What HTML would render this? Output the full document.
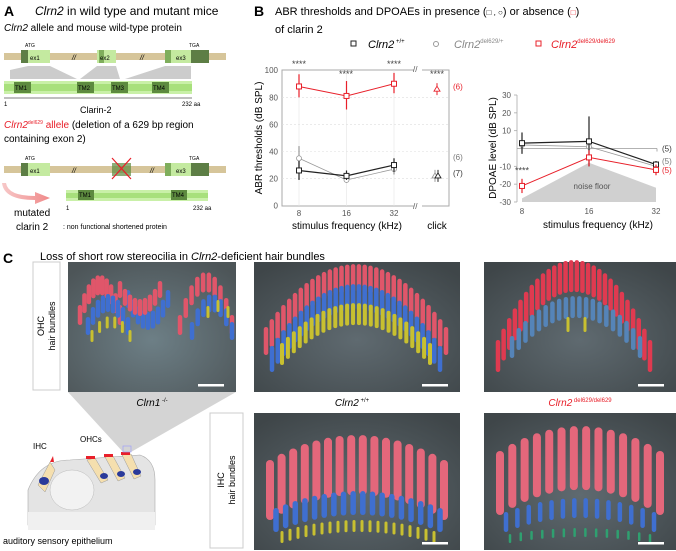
<!DOCTYPE html>
<html><head><meta charset="utf-8"><style>
html,body{margin:0;padding:0;background:#fff;}
svg{display:block;font-family:"Liberation Sans",Arial,sans-serif;}
</style></head><body>
<svg id="fig" width="676" height="551" viewBox="0 0 676 551" xmlns="http://www.w3.org/2000/svg">
<defs>
<linearGradient id="pinkArrow" x1="0" x2="1"><stop offset="0" stop-color="#f7c8c8"/><stop offset="1" stop-color="#f08a8a"/></linearGradient>
<radialGradient id="semBg" cx="0.5" cy="0.6" r="0.7"><stop offset="0" stop-color="#6d7f86"/><stop offset="1" stop-color="#4d5558"/></radialGradient>
<radialGradient id="semBg2" cx="0.5" cy="0.6" r="0.7"><stop offset="0" stop-color="#5f6a70"/><stop offset="1" stop-color="#3f4649"/></radialGradient>
<clipPath id="clipIhcWt"><rect x="254" y="413" width="206" height="137"/></clipPath>
<clipPath id="clipIhcKo"><rect x="484" y="413" width="192" height="137"/></clipPath>
</defs>

<!-- ===== Panel A ===== -->
<g>
<text x="4" y="16" font-size="14" font-weight="bold">A</text>
<text x="35" y="15" font-size="12"><tspan font-style="italic">Clrn2</tspan> in wild type and mutant mice</text>
<text x="4" y="31" font-size="10"><tspan font-style="italic">Clrn2</tspan> allele and mouse wild-type protein</text>
<g>
<rect x="4" y="53" width="222" height="7" fill="#d6c59a"/>
<rect x="21" y="50" width="7" height="13" fill="#5d7e45"/>
<rect x="28" y="50" width="22" height="13" fill="#c4eaa0"/>
<rect x="97" y="50" width="19" height="13" fill="#c4eaa0"/>
<rect x="99" y="50" width="5" height="13" fill="#7fae5c"/>
<rect x="165" y="50" width="26" height="13" fill="#c4eaa0"/>
<rect x="165" y="50" width="6" height="13" fill="#7fae5c"/>
<rect x="191" y="50" width="18" height="13" fill="#5d7e45"/>
<text x="30" y="60" font-size="6">ex1</text><text x="100" y="60" font-size="6">ex2</text><text x="176" y="60" font-size="6">ex3</text>
<text x="25" y="47" font-size="5">ATG</text><text x="189" y="47" font-size="5">TGA</text>
<text x="72" y="60" font-size="7" font-style="italic">//</text><text x="140" y="60" font-size="7" font-style="italic">//</text>
<polygon points="10,79 10,70 28,66 50,66 77,79" fill="#ccc"/>
<polygon points="80,79 97,66 116,66 120,79" fill="#ccc"/>
<polygon points="125,79 165,66 191,66 191,79" fill="#ccc"/>
</g>
<g>
<rect x="4" y="81" width="188" height="13" fill="#c9f0a8"/>
<rect x="4" y="84" width="188" height="7" fill="#a8e07c"/>
<rect x="14" y="82" width="17" height="11" fill="#5d8a3f"/><text x="15" y="90" font-size="6">TM1</text>
<rect x="77" y="82" width="17" height="11" fill="#5d8a3f"/><text x="78" y="90" font-size="6">TM2</text>
<rect x="111" y="82" width="17" height="11" fill="#5d8a3f"/><text x="112" y="90" font-size="6">TM3</text>
<rect x="152" y="82" width="17" height="11" fill="#5d8a3f"/><text x="153" y="90" font-size="6">TM4</text>
<line x1="4" y1="98" x2="192" y2="98" stroke="#555" stroke-width="0.8"/>
<text x="4" y="106" font-size="6">1</text><text x="182" y="106" font-size="6">232 aa</text>
<text x="80" y="113" font-size="9">Clarin-2</text>
</g>
<text x="4" y="128" font-size="10"><tspan fill="#e8202a" font-style="italic">Clrn2</tspan><tspan fill="#e8202a" font-size="5" dy="-4">del629</tspan><tspan fill="#e8202a" dy="4"> allele</tspan> (deletion of a 629 bp region</text>
<text x="4" y="142" font-size="10">containing exon 2)</text>
<g>
<rect x="4" y="166" width="222" height="7" fill="#d6c59a"/>
<rect x="21" y="163" width="7" height="13" fill="#5d7e45"/>
<rect x="28" y="163" width="22" height="13" fill="#c4eaa0"/>
<rect x="165" y="163" width="26" height="13" fill="#c4eaa0"/>
<rect x="165" y="163" width="6" height="13" fill="#7fae5c"/>
<rect x="191" y="163" width="18" height="13" fill="#5d7e45"/>
<rect x="112" y="163" width="19" height="13" fill="#5d8a3f" opacity="0.7"/>
<line x1="112" y1="158" x2="131" y2="179" stroke="#e8202a" stroke-width="1.2"/>
<line x1="131" y1="158" x2="112" y2="179" stroke="#e8202a" stroke-width="1.2"/>
<text x="30" y="173" font-size="6">ex1</text><text x="176" y="173" font-size="6">ex3</text>
<text x="25" y="160" font-size="5">ATG</text><text x="189" y="160" font-size="5">TGA</text>
<text x="72" y="173" font-size="7" font-style="italic">//</text><text x="150" y="173" font-size="7" font-style="italic">//</text>
</g>
<path d="M6,183 Q8,196 35,196 L35,192 L50,198 L35,204 L35,200 Q4,200 2,183 Z" fill="url(#pinkArrow)"/>
<g>
<rect x="66" y="190" width="142" height="11" fill="#c9f0a8"/>
<rect x="66" y="193" width="142" height="5" fill="#a8e07c"/>
<rect x="78" y="190" width="16" height="10" fill="#5d8a3f"/><text x="79" y="197" font-size="6">TM1</text>
<rect x="171" y="190" width="16" height="10" fill="#5d8a3f"/><text x="172" y="197" font-size="6">TM4</text>
<text x="66" y="210" font-size="6">1</text><text x="193" y="210" font-size="6">232 aa</text>
</g>
<text x="14" y="216" font-size="10">mutated</text>
<text x="16" y="230" font-size="10">clarin 2</text>
<text x="63" y="229" font-size="7">: non functional shortened protein</text>
</g>

<!-- ===== Panel B ===== -->
<g>
<text x="254" y="16" font-size="14" font-weight="bold">B</text>
<text x="275" y="15" font-size="11">ABR thresholds and DPOAEs in presence (<tspan font-size="8">□ , ○</tspan>) or absence (<tspan fill="#e8202a" font-size="8">□</tspan>)</text>
<text x="275" y="33" font-size="11">of clarin 2</text>
<g>
<rect x="351" y="41" width="5" height="5" fill="none" stroke="#222" stroke-width="1"/>
<text x="368" y="48" font-size="11" font-style="italic">Clrn2<tspan font-size="6" dy="-5" font-style="normal"> +/+</tspan></text>
<circle cx="436" cy="44" r="2.5" fill="none" stroke="#999"/>
<text x="454" y="48" font-size="11" font-style="italic" fill="#888">Clrn2<tspan font-size="6" dy="-5" font-style="normal">del629/+</tspan></text>
<rect x="536" y="41" width="5" height="5" fill="none" stroke="#e8202a"/>
<text x="551" y="48" font-size="11" font-style="italic" fill="#e8202a">Clrn2<tspan font-size="6" dy="-5" font-style="normal">del629/del629</tspan></text>
</g>
<g id="abr"></g>
<g id="dp"></g>
</g>

<!-- ===== Panel C ===== -->
<g>
<text x="3" y="263" font-size="14" font-weight="bold">C</text>
<text x="40" y="260" font-size="11">Loss of short row stereocilia in <tspan font-style="italic">Clrn2</tspan>-deficient hair bundles</text>
<rect x="33" y="262" width="27" height="128" fill="#fff" stroke="#ccc"/>
<text transform="translate(44,326) rotate(-90)" font-size="9" text-anchor="middle">OHC</text>
<text transform="translate(55,326) rotate(-90)" font-size="9" text-anchor="middle">hair bundles</text>
<rect x="210" y="413" width="33" height="135" fill="#fff" stroke="#ccc"/>
<text transform="translate(224,480) rotate(-90)" font-size="9" text-anchor="middle">IHC</text>
<text transform="translate(235,480) rotate(-90)" font-size="9" text-anchor="middle">hair bundles</text>
<polygon points="68,392 236,392 131,452 123,452" fill="#d4d4d4"/>
<g id="sem"></g>
<text x="152" y="406" font-size="10" font-style="italic" text-anchor="middle">Clrn1<tspan font-size="6" dy="-4" font-style="normal"> -/-</tspan></text>
<text x="352" y="406" font-size="10" font-style="italic" text-anchor="middle">Clrn2<tspan font-size="6" dy="-4" font-style="normal"> +/+</tspan></text>
<text x="580" y="406" font-size="10" font-style="italic" fill="#e8202a" text-anchor="middle">Clrn2<tspan font-size="6" dy="-4" font-style="normal"> del629/del629</tspan></text>
<g>
<path d="M28,490 Q40,460 70,460 L140,455 Q155,460 155,480 L155,525 L28,525 Z" fill="#e4e4e4" stroke="#aaa" stroke-width="0.6"/>
<rect x="28" y="512" width="127" height="18" fill="#f0f0f0"/>
<ellipse cx="72" cy="490" rx="22" ry="20" fill="#f2f2f2" stroke="#bbb" stroke-width="0.5"/>
<path d="M38,485 L50,462 L55,470 L45,492 Z" fill="#f5dfae" stroke="#999" stroke-width="0.5"/>
<ellipse cx="44" cy="481" rx="5" ry="4" fill="#2a3a9a"/>
<path d="M50,462 l3,-6 l1,6z" fill="#e8202a"/>
<g fill="#f5dfae" stroke="#999" stroke-width="0.5">
<path d="M87,460 L95,458 L108,480 L101,483 Z"/><path d="M105,457 L113,456 L125,478 L118,481 Z"/><path d="M122,455 L131,454 L141,476 L134,479 Z"/>
</g>
<ellipse cx="104" cy="476" rx="4" ry="3" fill="#2a3a9a"/><ellipse cx="121" cy="474" rx="4" ry="3" fill="#2a3a9a"/><ellipse cx="137" cy="472" rx="4" ry="3" fill="#2a3a9a"/>
<rect x="86" y="456" width="9" height="3" fill="#e8202a"/><rect x="104" y="454" width="9" height="3" fill="#e8202a"/><rect x="121" y="452" width="9" height="3" fill="#e8202a"/>
<rect x="123" y="446" width="8" height="6" fill="none" stroke="#99f" stroke-width="0.6"/>
<text x="33" y="449" font-size="8">IHC</text><text x="80" y="442" font-size="8">OHCs</text>
</g>
<text x="3" y="544" font-size="9">auditory sensory epithelium</text>
</g>

<script>
// ---------- ABR data ----------
const abrFreqs = [8, 16, 32];
const abrWT = [26, 22, 30];
const abrWTLo = [19, 19, 25];
const abrWTHi = [33, 26, 35];
const abrHet = [35, 19, 27];
const abrHetLo = [24, 17, 23];
const abrHetHi = [44, 23, 32];
const abrKO = [88, 81, 90];
const abrKOLo = [80, 71, 83];
const abrKOHi = [97, 92, 98];
const clickWT = 22, clickHet = 22, clickKO = 86;
const abrTicks = [0, 20, 40, 60, 80, 100];
// ---------- DPOAE data ----------
const dpFreqs = [8, 16, 32];
const dpWT = [3, 4, -9];
const dpWTLo = [-3, -10, -11];
const dpWTHi = [9, 18, -7];
const dpHet = [2, 1, -10];
const dpKO = [-21, -5, -12];
const dpKOLo = [-25, -10, -15];
const dpKOHi = [-17, -1, -9];
const dpNoise = [-28, -8, -22];
const dpTicks = [-30, -20, -10, 10, 20, 30];

const NS = "http://www.w3.org/2000/svg";
function mk(parent, tag, attrs, text) {
  const e = document.createElementNS(NS, tag);
  for (const k in attrs) e.setAttribute(k, attrs[k]);
  if (text !== undefined) e.textContent = text;
  parent.appendChild(e);
  return e;
}
const ax = v => 299 + (Math.log2(v) - 3) * 47.5;
const ay = v => 205.7 - v * 1.355;
const dx = v => 522 + (Math.log2(v) - 3) * 67;
const dy = v => 148.5 - v * 1.783;

const abr = document.getElementById('abr');
let fr = mk(abr, 'rect', {x: 282, y: 70, width: 167, height: 136, fill: 'none', stroke: '#aaa', 'stroke-width': 1});


mk(abr, 'rect', {x: 414, y: 64, width: 8, height: 146, fill: '#fff'});
mk(abr, 'text', {x: 413, y: 72, 'font-size': 8, fill: '#555'}, '//');
mk(abr, 'text', {x: 413, y: 209, 'font-size': 8, fill: '#555'}, '//');
abrTicks.forEach(t => {
  if (t > 0 && t < 100) {
    let g = mk(abr, 'line', {x1: 282, x2: 449, y1: ay(t), y2: ay(t), stroke: '#ddd', 'stroke-width': 0.6, 'stroke-dasharray': '2,2'});
    
    
  }
  let tl = mk(abr, 'text', {x: 278, y: ay(t) + 3, 'font-size': 8, 'text-anchor': 'end', fill: '#555'}, t);
  
  
});
abrFreqs.forEach(f => {
  let g = mk(abr, 'line', {x1: ax(f), x2: ax(f), y1: 70, y2: 206, stroke: '#e4e4e4', 'stroke-width': 0.6});
  
  
  let tl = mk(abr, 'text', {x: ax(f), y: 216, 'font-size': 8, 'text-anchor': 'middle', fill: '#555'}, f);
  
  
});
let yt = mk(abr, 'text', {transform: 'translate(262,138) rotate(-90)', 'font-size': 10, 'text-anchor': 'middle'}, 'ABR thresholds  (dB SPL)');


let xt = mk(abr, 'text', {x: 347, y: 229, 'font-size': 10, 'text-anchor': 'middle'}, 'stimulus frequency (kHz)');


let ct = mk(abr, 'text', {x: 437, y: 229, 'font-size': 10, 'text-anchor': 'middle'}, 'click');



function series(parent, xs, ys, lo, hi, xf, yf, col, lw, marker, name) {
  const pts = xs.map((f, i) => xf(f) + ',' + yf(ys[i])).join(' ');
  let pl = mk(parent, 'polyline', {points: pts, fill: 'none', stroke: col, 'stroke-width': lw});
  
  
  xs.forEach((f, i) => {
    if (lo) {
      let eb = mk(parent, 'line', {x1: xf(f), x2: xf(f), y1: yf(lo[i]), y2: yf(hi[i]), stroke: col, 'stroke-width': 1.2});
      
      
    }
    let m;
    if (marker === 'sq') m = mk(parent, 'rect', {x: xf(f) - 2.5, y: yf(ys[i]) - 2.5, width: 5, height: 5, fill: '#fff', stroke: col, 'stroke-width': 1});
    else m = mk(parent, 'circle', {cx: xf(f), cy: yf(ys[i]), r: 2.5, fill: '#fff', stroke: col, 'stroke-width': 0.8});
    
    
  });
}
series(abr, abrFreqs, abrHet, abrHetLo, abrHetHi, ax, ay, '#999', 0.8, 'c', 'abr-het');
series(abr, abrFreqs, abrWT, abrWTLo, abrWTHi, ax, ay, '#222', 1.2, 'sq', 'abr-wt');
series(abr, abrFreqs, abrKO, abrKOLo, abrKOHi, ax, ay, '#e8202a', 1, 'sq', 'abr-ko');
const cx0 = 437;
[[clickHet, '#999', -2], [clickWT, '#222', 1], [clickKO, '#e8202a', 0]].forEach(([v, c, o]) => {
  let eb = mk(abr, 'line', {x1: cx0 + o, x2: cx0 + o, y1: ay(v) - 6, y2: ay(v) + 6, stroke: c, 'stroke-width': 1});
  
  
  let tr = mk(abr, 'polygon', {points: `${cx0+o},${ay(v)-3} ${cx0+o+3},${ay(v)+2} ${cx0+o-3},${ay(v)+2}`, fill: '#fff', stroke: c, 'stroke-width': 0.9});
  
  
});
[[299, 67], [346, 77], [394, 67], [437, 77]].forEach(([x, y]) => {
  let s = mk(abr, 'text', {x: x, y: y, 'font-size': 9, 'text-anchor': 'middle', fill: '#444'}, '****');
  
  
});
[['(6)', ay(88) + 3, '#e8202a'], ['(6)', ay(36) + 3, '#777'], ['(7)', ay(24) + 3, '#333']].forEach(([t, y, c]) => {
  let n = mk(abr, 'text', {x: 453, y: y, 'font-size': 8, fill: c}, t);
  
  
});

// ---------- DPOAE ----------
const dp = document.getElementById('dp');
const np = dpFreqs.map((f, i) => dx(f) + ',' + dy(dpNoise[i])).join(' ');
let nf = mk(dp, 'polygon', {points: np + ` ${dx(32)},${dy(-30)} ${dx(8)},${dy(-30)}`, fill: '#d0d0d0'});


let nft = mk(dp, 'text', {x: 592, y: 189, 'font-size': 8, 'text-anchor': 'middle', fill: '#555'}, 'noise floor');


let yax = mk(dp, 'line', {x1: 517, x2: 517, y1: dy(30), y2: dy(-30), stroke: '#aaa', 'stroke-width': 0.8});


let zl = mk(dp, 'line', {x1: 517, x2: 657, y1: dy(0), y2: dy(0), stroke: '#999', 'stroke-width': 0.8});


mk(dp, 'line', {x1: 657, x2: 657, y1: dy(0), y2: dy(0) + 3, stroke: '#999', 'stroke-width': 0.8});
dpTicks.forEach(t => {
  let tk = mk(dp, 'line', {x1: 514, x2: 517, y1: dy(t), y2: dy(t), stroke: '#aaa', 'stroke-width': 0.8});
  
  
  let tl = mk(dp, 'text', {x: 511, y: dy(t) + 3, 'font-size': 8, 'text-anchor': 'end', fill: '#555'}, t);
  
  
});
dpFreqs.forEach(f => {
  let tl = mk(dp, 'text', {x: dx(f), y: 214, 'font-size': 8, 'text-anchor': 'middle', fill: '#555'}, f);
  
  
});
let dyt = mk(dp, 'text', {transform: 'translate(496,148) rotate(-90)', 'font-size': 10, 'text-anchor': 'middle'}, 'DPOAE level (dB SPL)');


let dxt = mk(dp, 'text', {x: 598, y: 228, 'font-size': 10, 'text-anchor': 'middle'}, 'stimulus frequency (kHz)');


series(dp, dpFreqs, dpHet, null, null, dx, dy, '#999', 0.8, 'c', 'dpoae-het');
series(dp, dpFreqs, dpWT, dpWTLo, dpWTHi, dx, dy, '#222', 1.2, 'sq', 'dpoae-wt');
series(dp, dpFreqs, dpKO, dpKOLo, dpKOHi, dx, dy, '#e8202a', 1, 'sq', 'dpoae-ko');
let ds = mk(dp, 'text', {x: 522, y: dy(-14), 'font-size': 9, 'text-anchor': 'middle', fill: '#444'}, '****');


[['(5)', dy(0) + 3, '#333'], ['(5)', dy(-7) + 3, '#777'], ['(5)', dy(-12) + 3, '#e8202a']].forEach(([t, y, c]) => {
  let n = mk(dp, 'text', {x: 662, y: y, 'font-size': 8, fill: c}, t);
  
  
});

// ---------- SEM images (decorative) ----------
const sem = document.getElementById('sem');
let target = sem;
function panel(x, y, w, h, bg, name, clip) {
  let r = mk(sem, 'rect', {x: x, y: y, width: w, height: h, fill: bg});
  
  
  target = sem;
  if (clip) {
    target = mk(sem, 'g', {'clip-path': 'url(#' + clip + ')'});
    
    
  }
  let b = mk(sem, 'rect', {x: x + w - 38, y: y + h - 8, width: 26, height: 2.5, fill: '#fff'});
  
  
}
function arcRow(x0, x1, yEnd, yPeak, n, len, wid, col) {
  for (let i = 0; i < n; i++) {
    const t = i / (n - 1);
    const x = x0 + (x1 - x0) * t;
    const y = yEnd - (yEnd - yPeak) * (1 - Math.pow(2 * t - 1, 2));
    let c = mk(target, 'rect', {x: x - wid / 2, y: y - len, width: wid, height: len, rx: wid / 2, fill: col});
    
    
  }
}
panel(68, 262, 168, 130, 'url(#semBg)', 'sem-clrn1-ohc');
arcRow(80, 120, 325, 295, 10, 20, 4.5, '#e0566a');
arcRow(88, 128, 335, 312, 9, 18, 4.5, '#3f6fd0');
arcRow(92, 130, 342, 328, 6, 12, 3, '#c8c030');
arcRow(128, 168, 308, 330, 9, 18, 4.5, '#3f6fd0');
arcRow(120, 160, 298, 316, 9, 17, 4.5, '#e0566a');
arcRow(180, 232, 335, 292, 10, 20, 4.5, '#e0566a');
arcRow(192, 232, 340, 312, 8, 18, 4.5, '#3f6fd0');
arcRow(208, 228, 318, 312, 3, 12, 3, '#c8c030');
panel(254, 262, 206, 130, 'url(#semBg2)', 'sem-clrn2-wt-ohc');
arcRow(266, 446, 355, 292, 32, 28, 4.5, '#e0566a');
arcRow(272, 440, 372, 310, 30, 26, 4.5, '#3f6fd0');
arcRow(282, 430, 365, 325, 26, 22, 4, '#c8c030');
panel(484, 262, 192, 130, 'url(#semBg2)', 'sem-clrn2-ko-ohc');
arcRow(498, 650, 372, 292, 28, 32, 4.5, '#e03a50');
arcRow(512, 640, 358, 318, 20, 22, 4.5, '#5584b8');
arcRow(568, 585, 332, 332, 2, 15, 3, '#c8c030');
panel(254, 413, 206, 137, 'url(#semBg2)', 'sem-clrn2-wt-ihc', 'clipIhcWt');
arcRow(270, 444, 520, 495, 16, 60, 8, '#e4677b');
arcRow(276, 440, 532, 515, 18, 24, 5.5, '#3f6fd0');
arcRow(282, 434, 543, 532, 20, 12, 3, '#c8c030');
panel(484, 413, 192, 137, 'url(#semBg2)', 'sem-clrn2-ko-ihc', 'clipIhcKo');
arcRow(500, 660, 515, 490, 14, 64, 8, '#e4677b');
arcRow(506, 654, 532, 518, 14, 20, 4.5, '#3f6fd0');
arcRow(510, 650, 543, 537, 14, 9, 2.5, '#2fa070');
</script>
</svg>
</body></html>
